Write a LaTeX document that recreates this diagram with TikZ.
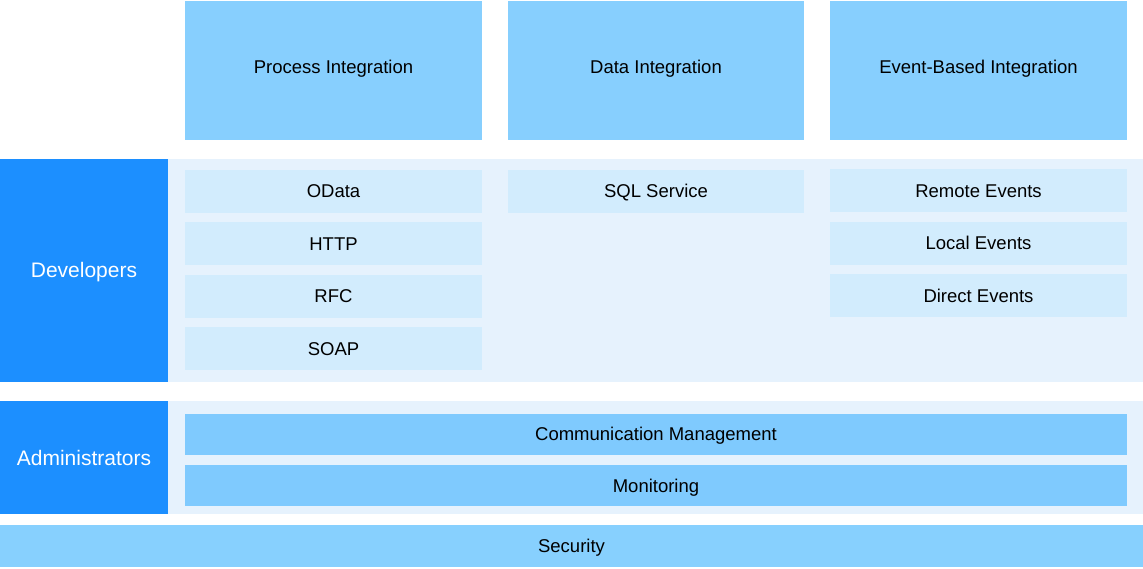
\documentclass[tikz,border=0pt]{standalone}
\usepackage{fontspec}
\setmainfont{Liberation Sans}
\usetikzlibrary{positioning}
\definecolor{topblue}{HTML}{87CFFE}
\definecolor{roleblue}{HTML}{1C8FFF}
\definecolor{bandblue}{HTML}{E6F2FD}
\definecolor{protoblue}{HTML}{D2ECFD}
\definecolor{barblue}{HTML}{7FCAFE}
\definecolor{secblue}{HTML}{87D0FE}

\begin{document}
\begin{tikzpicture}[x=1pt, y=-1pt, font=\fontsize{18.5}{22}\selectfont]
    % Blocks
    \tikzstyle{block} = [rectangle, inner sep=0pt, outer sep=0pt, text centered, anchor=north west, text height=17.2pt, text depth=4pt]
    \tikzstyle{topbox} = [block, fill=topblue, minimum width=297pt, minimum height=139pt, text height=11.2pt]
    \tikzstyle{band} = [block, fill=bandblue, minimum width=975pt]
    \tikzstyle{role} = [block, fill=roleblue, text=white, minimum width=168pt, font=\fontsize{21}{25}\selectfont, text height=19pt]
    \tikzstyle{proto} = [block, fill=protoblue, minimum width=297pt, minimum height=43pt]
    \tikzstyle{bar} = [block, fill=barblue, minimum width=942pt, minimum height=41pt]

    \useasboundingbox (0,0) rectangle (1143,568);

    % Integration styles
    \node[topbox] (process) at (185,0.5) {Process Integration};
    \node[topbox, right=26pt of process, minimum width=296pt] (data) {Data Integration};
    \node[topbox, right=26pt of data] (event) {Event-Based Integration};

    % Developers
    \node[band, minimum height=223pt] (devband) at (168,158.5) {};
    \node[role, minimum height=223pt] (dev) at (0,158.5) {Developers};

    \node[proto] (odata) at (185,169.5) {OData};
    \node[proto, below=9.5pt of odata] (http) {HTTP};
    \node[proto, below=9.5pt of http] (rfc) {RFC};
    \node[proto, below=9.5pt of rfc] (soap) {SOAP};

    \node[proto, minimum width=296pt] (sql) at (508,169.5) {SQL Service};

    \node[proto] (remote) at (830,169) {Remote Events};
    \node[proto, below=9.5pt of remote] (local) {Local Events};
    \node[proto, below=9.5pt of local] (direct) {Direct Events};

    % Administrators
    \node[band, minimum height=113pt] (adminband) at (168,401) {};
    \node[role, minimum height=113pt] (admin) at (0,401) {Administrators};

    \node[bar, minimum height=41.5pt] (comm) at (185,413.5) {Communication Management};
    \node[bar, below=10pt of comm] (monitor) {Monitoring};

    % Security
    \node[block, fill=secblue, minimum width=1143pt, minimum height=42.5pt] (security) at (0,524.5) {Security};
\end{tikzpicture}
\end{document}
